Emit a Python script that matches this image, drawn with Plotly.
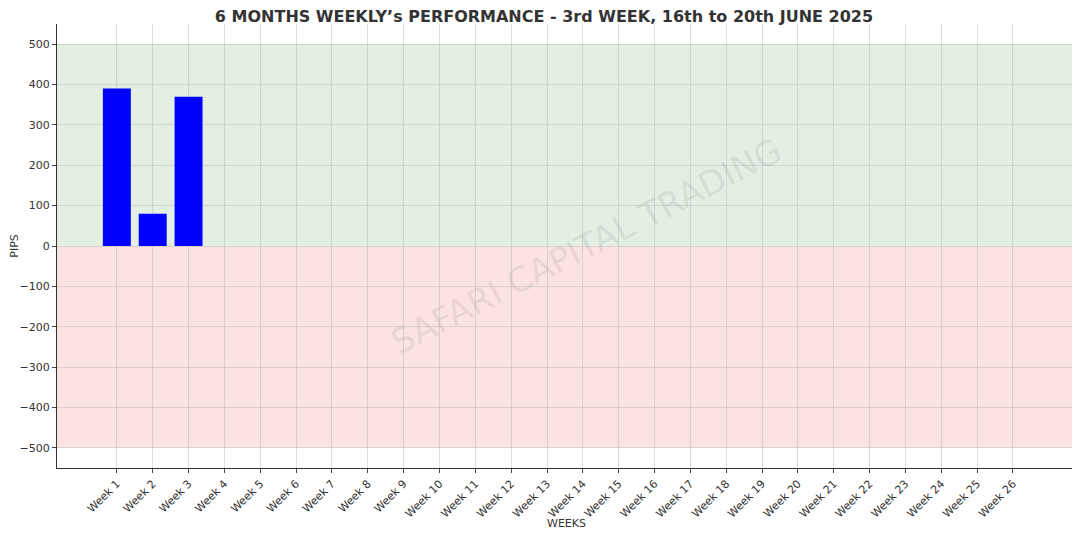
import plotly.graph_objects as go

weeks = [f"Week {i}" for i in range(1, 27)]
pips = [390, 80, 370] + [None] * 23
y_ticks = [-500, -400, -300, -200, -100, 0, 100, 200, 300, 400, 500]
y_labels = ["\u2212500", "\u2212400", "\u2212300", "\u2212200", "\u2212100", "0", "100", "200", "300", "400", "500"]

fig = go.Figure()
fig.add_trace(go.Bar(x=weeks, y=pips, marker_color="#0000ff", width=0.78,
                     marker_line_width=0))

# profit / loss zones
fig.add_hrect(y0=0, y1=500, fillcolor="#e3efe3", line_width=0, layer="below")
fig.add_hrect(y0=-500, y1=0, fillcolor="#fde2e2", line_width=0, layer="below")

fig.add_annotation(text="SAFARI CAPITAL TRADING", x=0.52, y=0.5, xref="paper", yref="paper",
                   showarrow=False, textangle=-27,
                   font=dict(size=34, color="rgba(150,150,150,0.2)", family="DejaVu Sans"))
# x axis title placed below the rotated tick labels
fig.add_annotation(text="WEEKS", x=0.5, y=-0.125, xref="paper", yref="paper",
                   showarrow=False, yanchor="middle", font=dict(size=11, color="#333333"))

fig.update_layout(
    width=1072, height=529,
    title=dict(text="<b>6 MONTHS WEEKLY\u2019s PERFORMANCE - 3rd WEEK, 16th to 20th JUNE 2025</b>",
               x=0.5, y=0.995, yanchor="top", font=dict(size=16, color="#333333")),
    plot_bgcolor="white", paper_bgcolor="white",
    margin=dict(l=49, r=5, t=16, b=69),
    font=dict(family="DejaVu Sans", size=12, color="#333333"),
    showlegend=False,
)
fig.update_xaxes(tickangle=-45,
                 range=[-1.67, 26.73], showgrid=True, gridcolor="rgba(180,180,180,0.45)",
                 showline=True, linecolor="#333333", ticks="outside", ticklen=4,
                 tickfont=dict(size=11), automargin=False)
fig.update_yaxes(title=dict(text="PIPS", font=dict(size=11), standoff=4), range=[-550, 550],
                 tickvals=y_ticks, ticktext=y_labels, showgrid=True,
                 gridcolor="rgba(180,180,180,0.45)", zeroline=False,
                 showline=True, linecolor="#333333", ticks="outside", ticklen=4,
                 tickfont=dict(size=11), automargin=False)

fig.write_html("out.html")
